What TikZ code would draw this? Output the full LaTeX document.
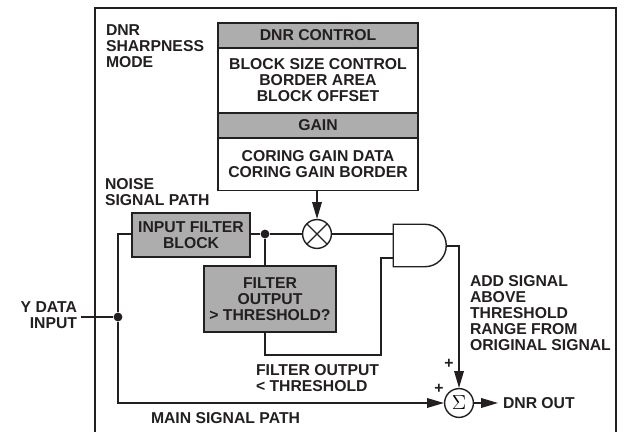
\documentclass[tikz,border=0pt]{standalone}
\usepackage{fontspec}
\setmainfont{Liberation Sans}
\usetikzlibrary{arrows.meta,positioning,shapes.gates.logic.US}
\definecolor{boxG}{HTML}{ADADAD}
\definecolor{lineK}{HTML}{231F20}

\begin{document}
\begin{tikzpicture}[x=0.025cm,y=-0.025cm, font=\bfseries\fontsize{11.2}{11.4}\selectfont,
  txt/.style={text=lineK, inner sep=0pt, outer sep=0pt, align=center},
  lab/.style={txt, align=left, anchor=west},
  band/.style={draw=lineK, line width=1.1pt, fill=boxG, txt, minimum width=5cm, minimum height=0.625cm},
  panel/.style={draw=lineK, line width=1.1pt, fill=white, txt, minimum width=5cm},
  block/.style={draw=lineK, line width=1.1pt, fill=boxG, txt},
  circ/.style={circle, draw=lineK, line width=1pt, fill=white, inner sep=0pt, minimum size=0.72cm},
  dot/.style={circle, fill=lineK, inner sep=0pt, minimum size=0.22cm},
  wire/.style={draw=lineK, line width=1pt},
  arr/.style={wire, -{Triangle[length=0.42cm,width=0.24cm]}},
  ]
\useasboundingbox (0,0) rectangle (624,432);
% ---- the frame
\coordinate (frameA) at (95,432);
\coordinate (frameB) at (95,8);
\coordinate (frameC) at (616,8);
\coordinate (frameD) at (616,432);
\draw[wire, line width=1.2pt] (frameA) -- (frameB) -- (frameC) -- (frameD);
% ---- the control stack
\node[band, anchor=north] (ctrl) at (318,23) {DNR CONTROL};
\node[panel, minimum height=1.625cm, below=0pt of ctrl] (size) {BLOCK SIZE CONTROL\\BORDER AREA\\BLOCK OFFSET};
\node[band, below=0pt of size] (gain) {GAIN};
\node[panel, minimum height=1.31cm, below=0pt of gain] (coring) {CORING GAIN DATA\\CORING GAIN BORDER};
% ---- the noise path
\node[block, minimum width=2.94cm, minimum height=1.1cm] (filt) at (191,235) {INPUT FILTER\\BLOCK};
\node[block, minimum width=3.29cm, minimum height=1.65cm] (test) at (270,299) {FILTER\\OUTPUT\\> THRESHOLD?};
\node[circ, path picture={\draw[wire] (path picture bounding box.north west) -- (path picture bounding box.south east)
  (path picture bounding box.north east) -- (path picture bounding box.south west);}] (mult) at (317,234) {};
\node[and gate US, logic gate inputs=nn, draw=lineK, line width=1pt, inner sep=0pt,
  minimum width=1.3cm, minimum height=1.06cm] (gate) at (418,245.5) {};
\node[circ, font=\fontsize{15}{15}\selectfont] (sum) at (459,403) {$\Sigma$};
\node[dot] (tap) at (265,234) {};
\node[dot] (split) at (118,317) {};
\coordinate (ystart) at (81,317);
\coordinate (dnrend) at (498,403);
\coordinate (splitup) at (118,234);
\coordinate (splitdown) at (118,403);
\coordinate (testdown) at (265,355);
\coordinate (testright) at (381,355);
\coordinate (gateup) at (381,258);
\coordinate (gateout) at (459,246);
% ---- the connectors
\draw[wire] (ystart) -- (split);
\draw[wire] (split) -- (splitup) -- (filt.west |- splitup);
\draw[arr] (split) -- (splitdown) -- (sum);
\draw[wire] (filt.east |- tap) -- (tap) -- (mult);
\draw[wire] (tap) -- (test.north -| tap);
\draw[arr] (coring.south -| mult) -- (mult);
\draw[wire] (mult) -- (gate.west |- mult);
\draw[wire] (test.south -| testdown) -- (testdown) -- (testright) -- (gateup) -- (gate.west |- gateup);
\draw[arr] (gate.east |- gateout) -- (gateout) -- (sum);
\draw[arr] (sum) -- (dnrend);
% ---- the labels
\node[lab] (mode) at (106,46) {DNR\\SHARPNESS\\MODE};
\node[lab] (noise) at (105,192) {NOISE\\SIGNAL PATH};
\node[txt, align=right, anchor=east] (yin) at (77,315) {Y DATA\\INPUT};
\node[lab] (below) at (256,378.5) {FILTER OUTPUT\\< THRESHOLD};
\node[lab] (main) at (151,418) {MAIN SIGNAL PATH};
\node[lab] (add) at (470,313) {ADD SIGNAL\\ABOVE\\THRESHOLD\\RANGE FROM\\ORIGINAL SIGNAL};
\node[lab] (out) at (503,403) {DNR OUT};
\node[txt] (plusa) at (449,364) {+};
\node[txt] (plusb) at (439,389) {+};
\end{tikzpicture}
\end{document}
